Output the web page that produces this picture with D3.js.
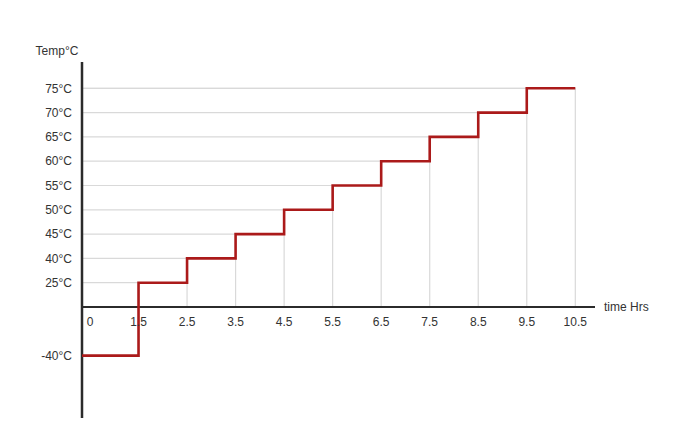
<!DOCTYPE html>
<html><head><meta charset="utf-8">
<script src="https://cdn.jsdelivr.net/npm/d3@7"></script>
<style>
html,body{margin:0;padding:0;background:#fff;}
text{font-family:Arial,"Liberation Sans",sans-serif;font-size:12px;fill:#333;}
</style></head>
<body><svg id="c" width="683" height="446"></svg>
<script>
// Data
const times = [0, 1.5, 2.5, 3.5, 4.5, 5.5, 6.5, 7.5, 8.5, 9.5, 10.5];
const temps = [-40, 25, 40, 45, 50, 55, 60, 65, 70, 75, 75];
const xTickLabels = ["0", "1.5", "2.5", "3.5", "4.5", "5.5", "6.5", "7.5", "8.5", "9.5", "10.5"];
const yTickValues = [75, 70, 65, 60, 55, 50, 45, 40, 25, 0, -40];
const yTickLabels = ["75°C", "70°C", "65°C", "60°C", "55°C", "50°C", "45°C", "40°C", "25°C", "", "-40°C"];
const yTitle = "Temp°C";
const xTitle = "time Hrs";

const svg = d3.select("#c");
const axisX0 = 82, axisTop = 62, axisBottom = 418, axisRight = 595;
const yStep = 24.3, yFirst = 88.3;
const xStep = 48.53, xFirst = 90;

// piecewise-linear scales over evenly spaced (categorical-like) positions
const yIdx = [0,1,2,3,4,5,6,7,8,9,11];
const y = d3.scaleLinear().domain(yTickValues.slice().reverse())
  .range(yIdx.map(i => yFirst + i*yStep).reverse());
const x = d3.scaleLinear().domain(times).range(times.map((t,i) => xFirst + i*xStep));
const y0 = y(0);

const data = times.map((t,i) => ({t, v: temps[i], i}));
const px = d => d.i === 0 ? axisX0 : x(d.t);

// drop gridlines
const grid = svg.append("g").attr("stroke", "#d9d9d9").attr("stroke-width", 1.2);
data.slice(1).forEach(d => {
  grid.append("line").attr("x1", axisX0).attr("x2", x(d.t)).attr("y1", y(d.v)).attr("y2", y(d.v));
  grid.append("line").attr("x1", x(d.t)).attr("x2", x(d.t)).attr("y1", y0).attr("y2", y(d.v));
});

// axes lines
svg.append("line").attr("x1", axisX0).attr("x2", axisRight).attr("y1", y0).attr("y2", y0)
  .attr("stroke", "#2b2b2b").attr("stroke-width", 2.2);
svg.append("line").attr("x1", axisX0).attr("x2", axisX0).attr("y1", axisTop).attr("y2", axisBottom)
  .attr("stroke", "#2b2b2b").attr("stroke-width", 2.5);

// step line
const line = d3.line().x(px).y(d => y(d.v)).curve(d3.curveStepAfter);
svg.append("path").datum(data).attr("d", line)
  .attr("fill", "none").attr("stroke", "#ab1a1a").attr("stroke-width", 2.6);

// y tick labels
svg.append("g").selectAll("text").data(yTickValues).join("text")
  .attr("x", 72).attr("y", d => y(d)).attr("dy", "0.35em").attr("text-anchor", "end")
  .text((d,i) => yTickLabels[i]);

// x tick labels
svg.append("g").selectAll("text").data(times).join("text")
  .attr("x", d => x(d)).attr("y", y0 + 15).attr("dy", "0.35em").attr("text-anchor", "middle")
  .text((d,i) => xTickLabels[i]);

// titles
svg.append("text").attr("x", 57).attr("y", 51).attr("dy", "0.35em").attr("text-anchor", "middle").text(yTitle);
svg.append("text").attr("x", 604).attr("y", y0).attr("dy", "0.35em").text(xTitle);
</script></body></html>
